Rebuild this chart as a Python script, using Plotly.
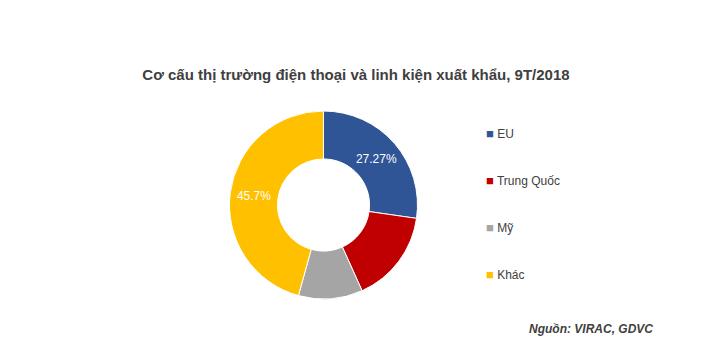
import plotly.graph_objects as go

categories = ["EU", "Trung Quốc", "Mỹ", "Khác"]
values = [27.27, 16.0, 11.03, 45.7]
show_label = [True, False, False, True]
colors = ["#2F5597", "#C00000", "#A5A5A5", "#FFC000"]

title_text = "Cơ cấu thị trường điện thoại và linh kiện xuất khẩu, 9T/2018"
source_text = "Nguồn: VIRAC, GDVC"

W, H = 724, 355
cx, cy, r = 323.5, 205, 94

texts = [f"{v}%" if s else "" for v, s in zip(values, show_label)]

fig = go.Figure()
fig.add_trace(go.Pie(
    labels=categories, values=values, text=texts,
    textinfo="text", textposition="inside", insidetextorientation="horizontal",
    marker=dict(colors=colors, line=dict(color="white", width=1)),
    hole=0.49, sort=False, direction="clockwise", rotation=0,
    showlegend=False, hoverinfo="label+percent",
    textfont=dict(color="white", size=12, family="Liberation Sans"),
    domain=dict(x=[(cx - r) / W, (cx + r) / W], y=[1 - (cy + r) / H, 1 - (cy - r) / H]),
))

for i, (name, c) in enumerate(zip(categories, colors)):
    fig.add_trace(go.Scatter(
        x=[None], y=[None], mode="markers",
        name=f"<span style='color:{c};font-size:13px'>■</span> {name}",
        legendgroup=f"g{i}",
        marker=dict(symbol="square", size=1, color="rgba(0,0,0,0)"),
    ))

fig.update_layout(
    width=W, height=H, margin=dict(l=0, r=0, t=0, b=0),
    paper_bgcolor="white", plot_bgcolor="white",
    font=dict(family="Liberation Sans", color="#404040", size=12),
    title=dict(text=f"<b>{title_text}</b>", x=356 / W, xanchor="center", y=1 - 75 / H, yanchor="middle",
               font=dict(size=15, color="#404040", family="Liberation Sans")),
    xaxis=dict(visible=False), yaxis=dict(visible=False),
    legend=dict(x=446 / W, xanchor="left", y=1 - 119 / H, yanchor="top",
                tracegroupgap=28, itemwidth=30, font=dict(size=12, color="#404040"),
                bgcolor="rgba(0,0,0,0)"),
    annotations=[dict(text=f"<b><i>{source_text}</i></b>", x=655 / W, xanchor="right",
                      y=1 - 329 / H, yanchor="middle", xref="paper", yref="paper",
                      showarrow=False, font=dict(size=12, color="#404040"))],
)

fig.write_html("out.html", config={"displayModeBar": False},
               post_script="document.body.style.margin='0';")
